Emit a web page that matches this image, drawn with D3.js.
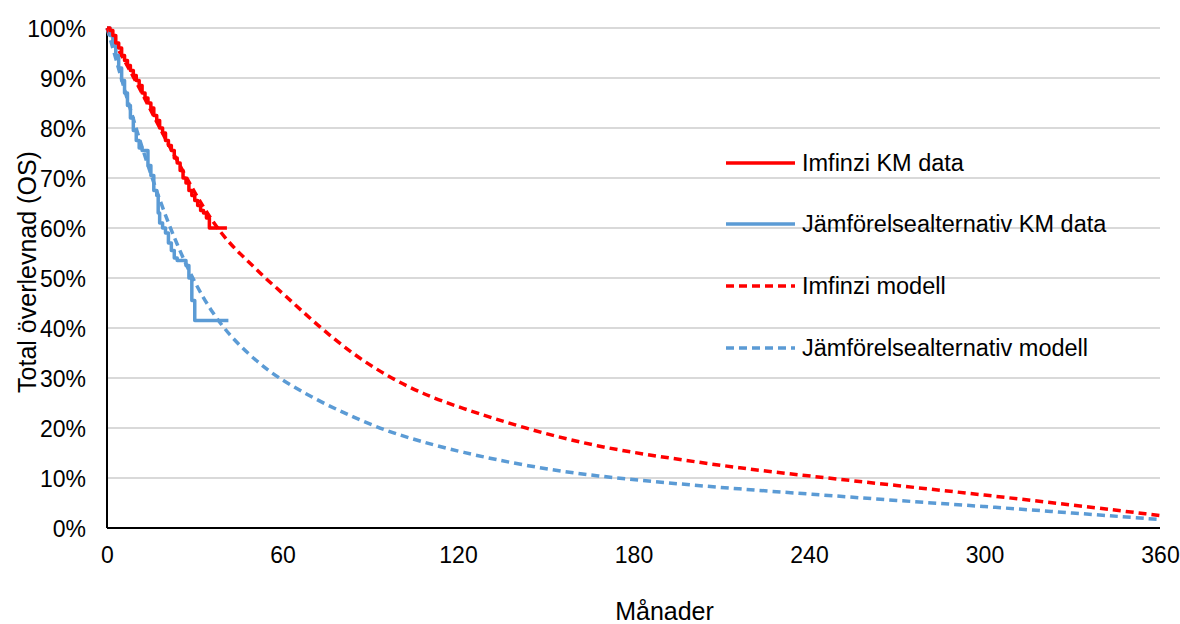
<!DOCTYPE html>
<html lang="sv">
<head>
    <meta charset="UTF-8">
    <title>Total överlevnad</title>
</head>

<style>
    body {
        margin: 0;
        background: #ffffff;
    }
    .grid line {
        stroke: #d9d9d9;
        stroke-width: 2px;
    }
    .axline {
        stroke: #000;
        stroke-width: 2px;
    }
    .axticks {
        font-family: "Liberation Sans", Arial, sans-serif;
        font-size: 23px;
        fill: #000;
    }
    .axlabel {
        font-family: "Liberation Sans", Arial, sans-serif;
        font-size: 25px;
        fill: #000;
    }
    .legtext {
        font-family: "Liberation Sans", Arial, sans-serif;
        font-size: 23.5px;
        fill: #000;
    }
</style>
<body>
<div id="my_dataviz"></div>
</body>

<script src="https://cdn.jsdelivr.net/npm/d3@7"></script>

<script>

    // tick labels
    var xTicks = [0, 60, 120, 180, 240, 300, 360];
    var yTicks = [0, 0.1, 0.2, 0.3, 0.4, 0.5, 0.6, 0.7, 0.8, 0.9, 1.0];

    // Kaplan-Meier steps (months, survival)
    var imfinziKmMonths = [0, 1, 2, 3, 4, 5, 6, 7, 8, 9, 10, 11, 12, 13, 14, 15, 16, 17, 18, 19, 20,
        21, 22, 23, 24, 25, 26, 27, 28, 29, 30, 31, 32, 33, 34, 35, 41];
    var imfinziKmSurv = [1.0, 0.995, 0.985, 0.97, 0.96, 0.945, 0.935, 0.925, 0.915, 0.905, 0.895,
        0.885, 0.87, 0.86, 0.85, 0.84, 0.825, 0.815, 0.80, 0.79, 0.775, 0.765, 0.755, 0.74, 0.73,
        0.715, 0.70, 0.69, 0.675, 0.665, 0.655, 0.645, 0.635, 0.63, 0.62, 0.60, 0.60];

    var compKmMonths = [0, 1, 2, 3, 4, 5, 6, 7, 8, 9, 10, 11, 12, 14, 15, 16, 17, 17.5, 18, 19, 20,
        21, 22, 23, 24, 27, 28, 29, 30, 41.5];
    var compKmSurv = [1.0, 0.985, 0.965, 0.945, 0.92, 0.895, 0.87, 0.845, 0.82, 0.795, 0.775, 0.76,
        0.755, 0.725, 0.705, 0.675, 0.665, 0.63, 0.61, 0.60, 0.59, 0.57, 0.555, 0.54, 0.535, 0.525,
        0.50, 0.455, 0.415, 0.415];

    // extrapolated models
    var modelMonths = [0, 3, 6, 12, 18, 24, 30, 36, 42, 48, 54, 60, 72, 84, 96, 108, 120, 144, 168,
        192, 216, 240, 270, 300, 330, 360];
    var imfinziModel = [1.0, 0.965, 0.935, 0.87, 0.80, 0.735, 0.67, 0.613, 0.568, 0.535, 0.50,
        0.47, 0.405, 0.348, 0.303, 0.268, 0.242, 0.197, 0.162, 0.14, 0.12, 0.104, 0.085, 0.066, 0.046, 0.025];
    var compModel = [1.0, 0.94, 0.875, 0.76, 0.655, 0.565, 0.49, 0.43, 0.385, 0.35, 0.32, 0.295,
        0.255, 0.222, 0.193, 0.172, 0.153, 0.123, 0.103, 0.09, 0.078, 0.068, 0.055, 0.043, 0.03, 0.017];

    var seriesNames = ["Imfinzi KM data", "Jämförelsealternativ KM data", "Imfinzi modell", "Jämförelsealternativ modell"];

    var red = "#ff0000", blue = "#5b9bd5";

    var margin = {top: 28, right: 20, bottom: 96, left: 107},
        width = 1180 - margin.left - margin.right,
        height = 624 - margin.top - margin.bottom;

    var svg = d3.select("#my_dataviz")
        .append("svg")
        .attr("width", 1180)
        .attr("height", 624)
        .append("g")
        .attr("transform", "translate(" + margin.left + "," + margin.top + ")");

    var x = d3.scaleLinear().domain([0, 360]).range([0, width]);
    var y = d3.scaleLinear().domain([0, 1]).range([height, 0]);

    // gridlines
    svg.append("g")
        .attr("class", "grid")
        .selectAll("line")
        .data(yTicks.filter(function(d) { return d > 0; }))
        .enter()
        .append("line")
        .attr("x1", 0)
        .attr("x2", width)
        .attr("y1", function(d) { return y(d); })
        .attr("y2", function(d) { return y(d); });

    // Y axis
    var yAxis = svg.append("g")
        .call(d3.axisLeft(y).tickValues(yTicks).tickSize(0).tickPadding(21)
            .tickFormat(d3.format(".0%")))
        .attr("class", "axticks");
    yAxis.select(".domain").remove();
    yAxis.selectAll("text").attr("class", "axticks").attr("dy", "0.36em");

    // X axis
    var xAxis = svg.append("g")
        .attr("transform", "translate(0," + height + ")")
        .call(d3.axisBottom(x).tickValues(xTicks).tickSize(0).tickPadding(19))
        .attr("class", "axticks");
    xAxis.select(".domain").remove();
    xAxis.selectAll("text").attr("class", "axticks");

    // axis lines
    svg.append("line").attr("class", "axline")
        .attr("x1", 0).attr("x2", 0).attr("y1", 0).attr("y2", height);
    svg.append("line").attr("class", "axline")
        .attr("x1", 0).attr("x2", width).attr("y1", height).attr("y2", height);

    // axis titles
    svg.append("text")
        .attr("class", "axlabel")
        .attr("x", width / 2 + 31)
        .attr("y", height + 92)
        .style("text-anchor", "middle")
        .text("Månader");

    svg.append("text")
        .attr("class", "axlabel")
        .attr("transform", "rotate(-90)")
        .attr("x", -height / 2 + 6)
        .attr("y", -80)
        .attr("dy", "0.35em")
        .style("text-anchor", "middle")
        .text("Total överlevnad (OS)");

    function pairs(xs, ys) {
        return xs.map(function(m, i) { return [m, ys[i]]; });
    }

    var stepLine = d3.line()
        .x(function(d) { return x(d[0]); })
        .y(function(d) { return y(d[1]); })
        .curve(d3.curveStepAfter);

    var smoothLine = d3.line()
        .x(function(d) { return x(d[0]); })
        .y(function(d) { return y(d[1]); })
        .curve(d3.curveBasis);

    var series = [
        {data: pairs(modelMonths, compModel), color: blue, dash: "8,5", gen: smoothLine},
        {data: pairs(modelMonths, imfinziModel), color: red, dash: "8,5", gen: smoothLine},
        {data: pairs(compKmMonths, compKmSurv), color: blue, dash: null, gen: stepLine},
        {data: pairs(imfinziKmMonths, imfinziKmSurv), color: red, dash: null, gen: stepLine}
    ];

    svg.selectAll(".series")
        .data(series)
        .enter()
        .append("path")
        .attr("class", "series")
        .attr("fill", "none")
        .attr("stroke", function(d) { return d.color; })
        .attr("stroke-width", 3.5)
        .attr("stroke-dasharray", function(d) { return d.dash; })
        .attr("stroke-linejoin", "round")
        .attr("d", function(d) { return d.gen(d.data); });

    // legend
    var legendRows = [
        {name: seriesNames[0], color: red, dash: null},
        {name: seriesNames[1], color: blue, dash: null},
        {name: seriesNames[2], color: red, dash: "8,5"},
        {name: seriesNames[3], color: blue, dash: "8,5"}
    ];
    var legendY = [163, 224, 286, 348];

    var legend = svg.append("g")
        .attr("transform", "translate(" + (726 - margin.left) + "," + (-margin.top) + ")");

    var rows = legend.selectAll("g")
        .data(legendRows)
        .enter()
        .append("g")
        .attr("transform", function(d, i) { return "translate(0," + legendY[i] + ")"; });

    rows.append("line")
        .attr("x1", 0).attr("x2", 69)
        .attr("stroke", function(d) { return d.color; })
        .attr("stroke-width", 3.5)
        .attr("stroke-dasharray", function(d) { return d.dash; });

    rows.append("text")
        .attr("class", "legtext")
        .attr("x", 76)
        .attr("dy", "0.36em")
        .text(function(d) { return d.name; });

</script>
</html>
